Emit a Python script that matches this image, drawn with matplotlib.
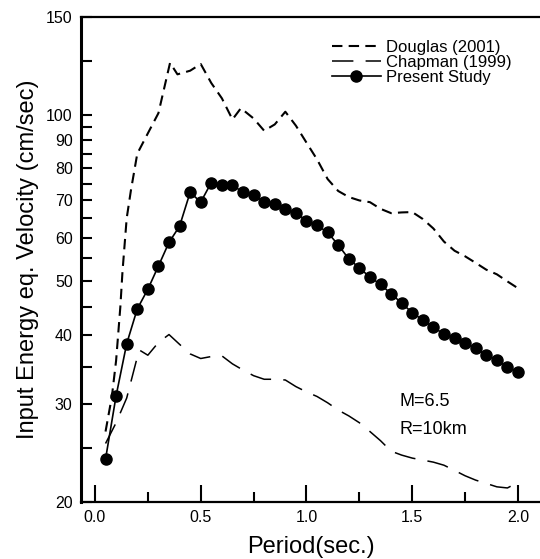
import matplotlib
matplotlib.use("Agg")
import matplotlib.pyplot as plt
from matplotlib.ticker import FixedLocator, NullFormatter

plt.rcParams['font.family'] = ['Liberation Sans', 'DejaVu Sans']

# Present study
period_ps = [0.05, 0.10, 0.15, 0.20, 0.25, 0.30, 0.35, 0.40, 0.45, 0.50,
             0.55, 0.60, 0.65, 0.70, 0.75, 0.80, 0.85, 0.90, 0.95, 1.00,
             1.05, 1.10, 1.15, 1.20, 1.25, 1.30, 1.35, 1.40, 1.45, 1.50,
             1.55, 1.60, 1.65, 1.70, 1.75, 1.80, 1.85, 1.90, 1.95, 2.00]
vel_ps = [23.9, 31.1, 38.6, 44.6, 48.4, 53.3, 58.8, 62.9, 72.4, 69.5,
          75.4, 74.6, 74.6, 72.4, 71.7, 69.6, 68.9, 67.5, 66.4, 64.4,
          63.1, 61.3, 58.2, 54.9, 52.9, 50.9, 49.4, 47.5, 45.7, 43.9,
          42.6, 41.3, 40.2, 39.5, 38.7, 37.9, 36.8, 36.1, 35.1, 34.3]

# Douglas (2001)
period_dg = [0.05, 0.08, 0.10, 0.12, 0.13, 0.15, 0.17, 0.20, 0.25, 0.30,
             0.355, 0.39, 0.45, 0.50, 0.55, 0.60, 0.65, 0.69, 0.75, 0.80,
             0.85, 0.90, 0.95, 1.00, 1.05, 1.10, 1.15, 1.20, 1.25, 1.30,
             1.35, 1.40, 1.45, 1.50, 1.55, 1.60, 1.65, 1.70, 1.75, 1.80,
             1.85, 1.90, 1.95, 2.00]
vel_dg = [26.8, 31.0, 36.0, 45.0, 52.0, 65.0, 73.0, 85.0, 92.5, 100.6,
          124.0, 118.2, 120.0, 123.4, 114.0, 107.0, 98.0, 102.7, 98.4, 93.5,
          96.0, 101.2, 95.5, 89.0, 83.0, 76.5, 72.8, 71.0, 70.0, 69.5,
          67.6, 66.4, 66.6, 66.7, 64.8, 62.3, 59.0, 56.8, 55.5, 54.0,
          52.5, 51.5, 50.0, 48.6]

# Chapman (1999)
period_ch = [0.05, 0.10, 0.15, 0.20, 0.21, 0.25, 0.30, 0.35, 0.40, 0.45,
             0.50, 0.55, 0.60, 0.65, 0.70, 0.75, 0.80, 0.85, 0.90, 0.95,
             1.00, 1.05, 1.10, 1.15, 1.20, 1.25, 1.30, 1.35, 1.40, 1.45,
             1.50, 1.55, 1.60, 1.65, 1.70, 1.75, 1.80, 1.85, 1.90, 1.95, 2.00]
vel_ch = [25.5, 27.8, 30.8, 36.5, 37.6, 36.8, 38.8, 40.1, 38.5, 37.0,
          36.3, 36.6, 36.7, 35.5, 34.6, 33.8, 33.3, 33.3, 33.2, 32.3,
          31.6, 31.0, 30.2, 29.3, 28.6, 27.8, 26.8, 25.8, 24.7, 24.3,
          24.0, 23.8, 23.6, 23.3, 22.8, 22.3, 21.9, 21.6, 21.3, 21.2, 21.7]

y_major = [20, 30, 40, 50, 60, 70, 80, 90, 100, 150]
y_minor = [25, 35, 45, 55, 65, 75, 85, 95, 125]
x_major = [0.0, 0.5, 1.0, 1.5, 2.0]
x_minor = [0.25, 0.75, 1.25, 1.75]

fig = plt.figure(figsize=(5.4, 5.59), dpi=100)
ax = fig.add_axes([0.15, 0.102, 0.85, 0.8676])

ax.plot(period_dg, vel_dg, color='black', lw=1.5, dashes=(5, 3),
        label='Douglas (2001)')
ax.plot(period_ch, vel_ch, color='black', lw=1.1, dashes=(14, 8),
        label='Chapman (1999)')
ax.plot(period_ps, vel_ps, color='black', lw=1.2, marker='o',
        markersize=8, label='Present Study')

ax.set_yscale('log')
ax.set_ylim(20, 150)
ax.set_xlim(-0.066, 2.104)

ax.yaxis.set_major_locator(FixedLocator(y_major))
ax.yaxis.set_minor_locator(FixedLocator(y_minor))
ax.set_yticklabels([str(v) for v in y_major])
ax.yaxis.set_minor_formatter(NullFormatter())
ax.xaxis.set_major_locator(FixedLocator(x_major))
ax.xaxis.set_minor_locator(FixedLocator(x_minor))
ax.set_xticklabels(['%.1f' % v for v in x_major])

ax.tick_params(axis='y', which='both', direction='in', length=8, width=1.5,
               labelsize=11.5, pad=6)
ax.tick_params(axis='x', which='major', direction='in', length=12, width=1.5,
               labelsize=11.5, pad=6)
ax.tick_params(axis='x', which='minor', direction='in', length=7, width=1.5)

ax.spines['right'].set_visible(False)
ax.spines['left'].set_linewidth(2.2)
ax.spines['bottom'].set_linewidth(1.6)
ax.spines['top'].set_linewidth(1.6)

ax.set_xlabel('Period(sec.)', fontsize=17, labelpad=8)
ax.set_ylabel('Input Energy eq. Velocity (cm/sec)', fontsize=17, labelpad=5)

ax.text(1.44, 30.3, 'M=6.5', fontsize=13, ha='left', va='center')
ax.text(1.44, 27.0, 'R=10km', fontsize=13, ha='left', va='center')

leg = ax.legend(loc='upper left', bbox_to_anchor=(0.522, 0.976), frameon=False,
                fontsize=12, handlelength=2.9, handletextpad=0.35,
                labelspacing=0.0, borderpad=0.2)

fig.savefig('out.png', dpi=100)
